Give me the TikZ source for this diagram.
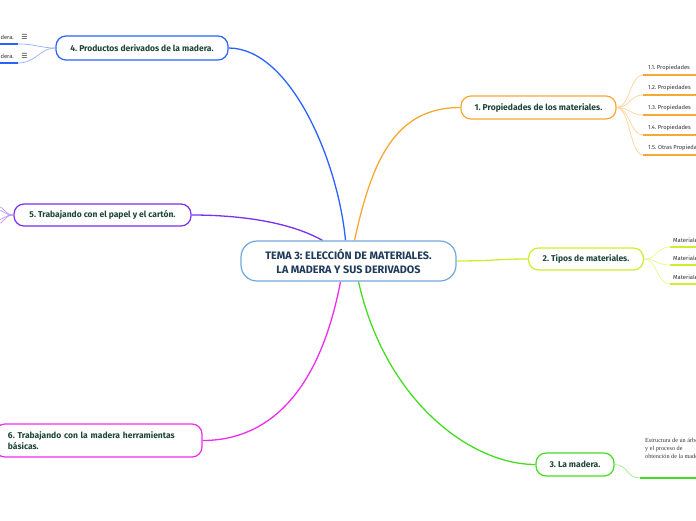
\documentclass[tikz,border=0pt]{standalone}
\usepackage{fontspec}
\setsansfont{Fira Sans}
\newfontfamily\smallserif{Liberation Serif}
\newfontfamily\dejavu{DejaVu Sans}
\usetikzlibrary{calc,backgrounds}
\frenchspacing
\definecolor{cOr}{HTML}{F7A833}
\definecolor{cYe}{HTML}{CDEF2E}
\definecolor{cGr}{HTML}{44DD22}
\definecolor{cBl}{HTML}{2962FF}
\definecolor{cPu}{HTML}{7B2FF0}
\definecolor{cMa}{HTML}{EE2CEE}
\definecolor{cCe}{HTML}{6FA8DC}
\definecolor{txt}{HTML}{1D4536}
\definecolor{ctxt}{HTML}{1F3A5A}
\definecolor{stxt}{HTML}{333333}
\tikzset{
  topic/.style={draw=#1, line width=1.2pt, rounded corners=10pt, fill=white,
    font=\sffamily\bfseries\fontsize{8.5}{10.5}\selectfont, text=txt, inner sep=0pt, align=center},
  conn/.style={draw=#1, line width=1.3pt},
  subline/.style={draw=#1, line width=1.3pt},
  subconn/.style={draw=#1!50, line width=0.7pt},
  subtext/.style={font=\sffamily\fontsize{5.8}{7}\selectfont, text=stxt, anchor=base west, inner sep=0pt},
}
\begin{document}
\begin{tikzpicture}[x=1pt,y=-1pt]
\useasboundingbox (0,0) rectangle (696,520);
\clip (0,0) rectangle (696,520);

% central topic
\node[draw=cCe, line width=1.2pt, rounded corners=16pt, fill=white, minimum width=215pt, minimum height=40pt,
  inner sep=0pt, align=center, text=ctxt, font=\sffamily\bfseries\fontsize{10.8}{14}\selectfont]
  (c) at (348.5,261) {TEMA 3: ELECCIÓN DE MATERIALES.\\LA MADERA Y SUS DERIVADOS};

% main topics
\node[topic=cOr, minimum width=155pt, minimum height=23pt] (n1) at (538.5,107.5) {1. Propiedades de los materiales.};
\node[topic=cYe, minimum width=115pt, minimum height=22pt] (n2) at (586,259) {2. Tipos de materiales.};
\node[topic=cGr, minimum width=78pt, minimum height=23pt] (n3) at (575,464.5) {3. La madera.};
\node[topic=cBl, minimum width=172pt, minimum height=24pt] (n4) at (142,48) {4. Productos derivados de la madera.};
\node[topic=cPu, minimum width=177pt, minimum height=22pt] (n5) at (102.5,215) {5. Trabajando con el papel y el cartón.};
\node[topic=cMa, minimum width=207pt, minimum height=33pt, text width=181pt, align=left] (n6) at (98.5,440.5)
  {6. Trabajando con la madera herramientas\\básicas.};

% main connectors
\begin{scope}[on background layer]
\draw[conn=cBl] ($(c.north)+(-3,0)$) .. controls (338,160) and (290,48) .. (n4.east);
\draw[conn=cOr] ($(c.north)+(6,0)$) .. controls (372,160) and (395,107.5) .. (n1.west);
\draw[conn=cYe] (c.east) .. controls (490,261) and (500,259) .. (n2.west);
\draw[conn=cGr] ($(c.south)+(10,0)$) .. controls (385,400) and (470,464.5) .. (n3.west);
\draw[conn=cMa] ($(c.south)+(-8,0)$) .. controls (320,390) and (270,440.5) .. (n6.east);
\draw[conn=cPu] ($(c.north)+(-26,0)$) .. controls (290,222) and (240,215) .. (n5.east);
\end{scope}

% subtopics of 1
\foreach \i/\y/\t in {1/75/{1.1. Propiedades},2/95/{1.2. Propiedades},3/115/{1.3. Propiedades},4/135/{1.4. Propiedades},5/155/{1.5. Otras Propiedades}}{
  \coordinate (a\i) at (643,\y);
  \coordinate (b\i) at (700,\y);
  \draw[subconn=cOr] (n1.east) .. controls (630,107.5) and (630,\y) .. (a\i);
  \draw[subline=cOr] (a\i) -- (b\i);
  \node[subtext] (t1\i) at (648,\y-5.5) {\t};
}

% subtopics of 2
\foreach \i/\y in {1/247,2/265,3/284}{
  \coordinate (d\i) at (670,\y);
  \coordinate (e\i) at (700,\y);
  \draw[subconn=cYe] (n2.east) .. controls (657,259) and (657,\y) .. (d\i);
  \draw[subline=cYe] (d\i) -- (e\i);
  \node[subtext] (t2\i) at (673,\y-5) {Materiales};
}

% subtopic of 3
\coordinate (g1) at (640,478);
\coordinate (g2) at (700,478);
\draw[subconn=cGr] (n3.east) .. controls (628,464.5) and (626,478) .. (g1);
\draw[subline=cGr] (g1) -- (g2);
\node[anchor=base west, inner sep=0pt, align=left, text=stxt, font=\smallserif\fontsize{6.2}{8}\selectfont]
  (t3) at (645,458) {Estructura de un árbol\\y el proceso de\\obtención de la madera};

% subtopics of 4
\foreach \i/\y in {1/44,2/63}{
  \coordinate (h\i) at (18,\y);
  \coordinate (k\i) at (-5,\y);
  \draw[subconn=cBl] (n4.west) .. controls (40,48) and (36,\y) .. (h\i);
  \draw[subline=cBl] (k\i) -- (h\i);
  \node[font=\sffamily\fontsize{5.8}{7}\selectfont, text=stxt, anchor=base east, inner sep=0pt] (t4\i) at (14,\y-5) {madera.};
  \node[font=\dejavu\fontsize{7}{8}\selectfont, text=stxt, inner sep=0pt] (i4\i) at (24.5,\y-7.5) {☰};
}

% subtopics of 5
\foreach \i/\y in {1/206,2/210,3/220,4/224}{
  \coordinate (p\i) at (-3,\y);
  \draw[subconn=cPu] (n5.west) .. controls (4,215) and (4,\y) .. (p\i);
}
\end{tikzpicture}
\end{document}
